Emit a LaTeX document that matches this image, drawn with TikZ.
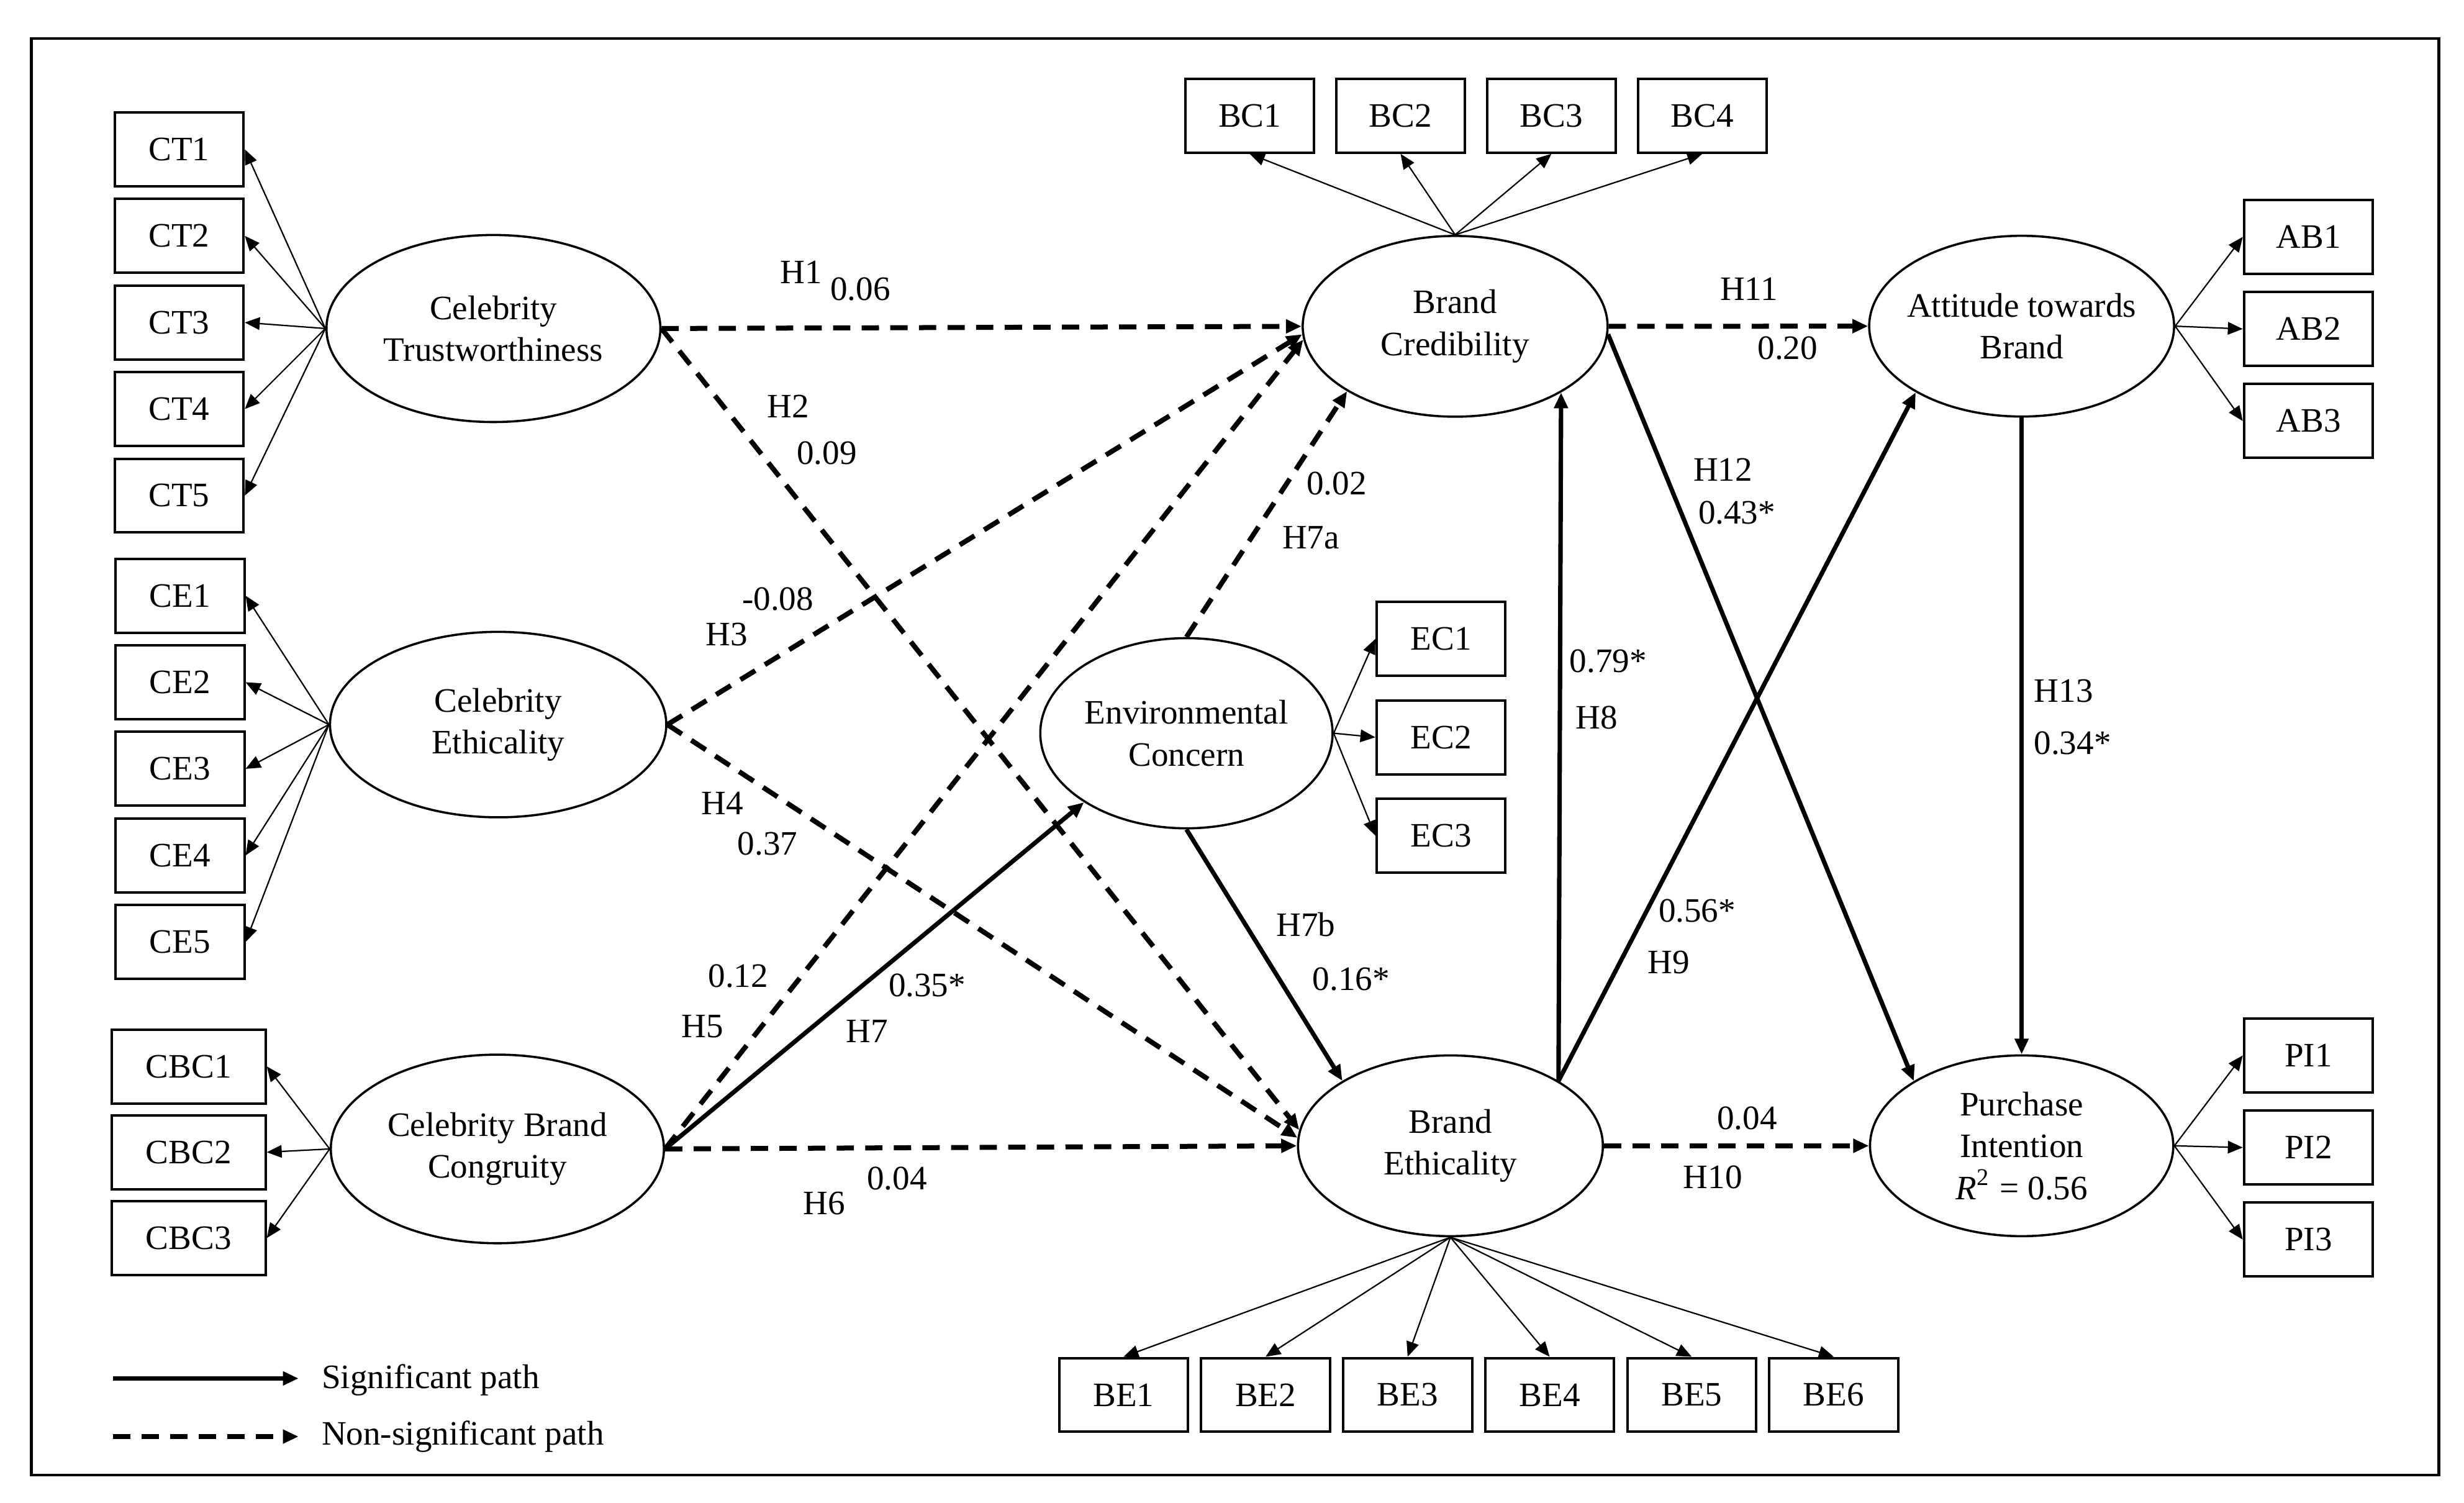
\documentclass[tikz,border=0pt]{standalone}
\usepackage{fontspec}
\setmainfont{Liberation Serif}
\usetikzlibrary{positioning,shapes.geometric,arrows.meta}

\begin{document}
\begin{tikzpicture}[x=0.1mm,y=-0.1mm,font=\fontsize{6.2}{7.6}\selectfont,
  latent/.style={ellipse,draw,line width=0.4pt,inner xsep=-3mm,inner ysep=-1mm,
    align=center,minimum width=19.4mm,minimum height=11.5mm},
  item/.style={rectangle,draw,line width=0.45pt,inner sep=0pt,
    minimum width=8.2mm,minimum height=4.7mm},
  load/.style={line width=0.25pt,-{Triangle[length=0.95mm,width=0.8mm]}},
  sig/.style={line width=0.8pt,-{Triangle[length=1mm,width=0.85mm]}},
  nonsig/.style={sig,line width=0.9pt,dash pattern=on 1.1mm off 0.72mm},
  num/.style={inner sep=0pt}]
  \useasboundingbox (0,0) rectangle (1568,956);
  \draw[line width=0.5pt] (20,24.5) rectangle (1552,938.5);

  % constructs
  \node[latent,minimum width=21.25mm,minimum height=11.9mm] (ct) at (314,209) {Celebrity\\Trustworthiness};
  \node[latent,minimum width=21.4mm,minimum height=11.8mm] (ce) at (317,461) {Celebrity\\Ethicality};
  \node[latent,minimum width=21.2mm,minimum height=12mm] (cbc) at (316.5,731) {Celebrity Brand\\Congruity};
  \node[latent,minimum width=18.6mm,minimum height=12.1mm] (ec) at (755,466.5) {Environmental\\Concern};
  \node[latent] (bc) at (926,207.6) {Brand\\Credibility};
  \node[latent] (att) at (1286.5,207.5) {Attitude towards\\Brand};
  \node[latent] (be) at (923,729) {Brand\\Ethicality};
  \node[latent,minimum width=19.3mm] (pi) at (1286.5,729)
    {Purchase\\Intention\\\textit{R}\textsuperscript{2} = 0.56};

  % indicators
  \node[item] (ct1) at (114,95) {CT1};
  \node[item] (ct2) [below = 0.65mm of ct1] {CT2};
  \node[item] (ct3) [below = 0.65mm of ct2] {CT3};
  \node[item] (ct4) [below = 0.65mm of ct3] {CT4};
  \node[item] (ct5) [below = 0.65mm of ct4] {CT5};
  \node[item] (ce1) at (114.5,379) {CE1};
  \node[item] (ce2) [below = 0.65mm of ce1] {CE2};
  \node[item] (ce3) [below = 0.65mm of ce2] {CE3};
  \node[item] (ce4) [below = 0.65mm of ce3] {CE4};
  \node[item] (ce5) [below = 0.65mm of ce4] {CE5};
  \node[item,minimum width=9.8mm] (cbc1) at (120,678.5) {CBC1};
  \node[item,minimum width=9.8mm] (cbc2) [below = 0.6mm of cbc1] {CBC2};
  \node[item,minimum width=9.8mm] (cbc3) [below = 0.6mm of cbc2] {CBC3};
  \node[item] (bc1) at (795.3,73.6) {BC1};
  \node[item] (bc2) [right = 1.24mm of bc1] {BC2};
  \node[item] (bc3) [right = 1.24mm of bc2] {BC3};
  \node[item] (bc4) [right = 1.24mm of bc3] {BC4};
  \node[item] (ab1) at (1469,150.7) {AB1};
  \node[item] (ab2) [below = 1mm of ab1] {AB2};
  \node[item] (ab3) [below = 1mm of ab2] {AB3};
  \node[item] (ec1) at (917,406.5) {EC1};
  \node[item] (ec2) [below = 1.4mm of ec1] {EC2};
  \node[item] (ec3) [below = 1.4mm of ec2] {EC3};
  \node[item] (pi1) at (1469,671.5) {PI1};
  \node[item] (pi2) [below = 1mm of pi1] {PI2};
  \node[item] (pi3) [below = 1mm of pi2] {PI3};
  \node[item] (be1) at (715,887.5) {BE1};
  \node[item] (be2) [right = 0.68mm of be1] {BE2};
  \node[item] (be3) [right = 0.68mm of be2] {BE3};
  \node[item] (be4) [right = 0.68mm of be3] {BE4};
  \node[item] (be5) [right = 0.68mm of be4] {BE5};
  \node[item] (be6) [right = 0.68mm of be5] {BE6};

  \draw[load] (ct.west) -- (ct1.east);
  \draw[load] (ct.west) -- (ct2.east);
  \draw[load] (ct.west) -- (ct3.east);
  \draw[load] (ct.west) -- (ct4.east);
  \draw[load] (ct.west) -- (ct5.east);
  \draw[load] (ce.west) -- (ce1.east);
  \draw[load] (ce.west) -- (ce2.east);
  \draw[load] (ce.west) -- (ce3.east);
  \draw[load] (ce.west) -- (ce4.east);
  \draw[load] (ce.west) -- (ce5.east);
  \draw[load] (cbc.west) -- (cbc1.east);
  \draw[load] (cbc.west) -- (cbc2.east);
  \draw[load] (cbc.west) -- (cbc3.east);
  \draw[load] (bc.north) -- (bc1.south);
  \draw[load] (bc.north) -- (bc2.south);
  \draw[load] (bc.north) -- (bc3.south);
  \draw[load] (bc.north) -- (bc4.south);
  \draw[load] (att.east) -- (ab1.west);
  \draw[load] (att.east) -- (ab2.west);
  \draw[load] (att.east) -- (ab3.west);
  \draw[load] (ec.east) -- (ec1.west);
  \draw[load] (ec.east) -- (ec2.west);
  \draw[load] (ec.east) -- (ec3.west);
  \draw[load] (pi.east) -- (pi1.west);
  \draw[load] (pi.east) -- (pi2.west);
  \draw[load] (pi.east) -- (pi3.west);
  \draw[load] (be.south) -- (be1.north);
  \draw[load] (be.south) -- (be2.north);
  \draw[load] (be.south) -- (be3.north);
  \draw[load] (be.south) -- (be4.north);
  \draw[load] (be.south) -- (be5.north);
  \draw[load] (be.south) -- (be6.north);

  % structural paths
  \draw[nonsig] (ct.east) -- (bc.west);
  \draw[nonsig] (ct.east) -- (be.174);
  \draw[nonsig] (ce.east) -- (bc.183);
  \draw[nonsig] (ce.east) -- (be.177);
  \draw[nonsig] (cbc.east) -- (bc.185);
  \draw[nonsig] (cbc.east) -- (be.west);
  \draw[sig] (cbc.east) -- (ec.214);
  \draw[nonsig] (ec.north) -- (bc.211);
  \draw[sig] (ec.south) -- (be.149);
  \draw[sig] (be.31) -- (bc.-32);
  \draw[sig] (be.31) -- (att.212);
  \draw[nonsig] (be.east) -- (pi.west);
  \draw[nonsig] (bc.east) -- (att.west);
  \draw[sig] (bc.-3) -- (pi.149);
  \draw[sig] (att.south) -- (pi.north);

  % path labels
  \node[num] at (510,173) {H1};
  \node[num] at (547.5,184) {0.06};
  \node[num] at (501.6,258.4) {H2};
  \node[num] at (526.2,288.3) {0.09};
  \node[num] at (495,381.3) {-0.08};
  \node[num] at (462.3,403.6) {H3};
  \node[num] at (459.7,510.9) {H4};
  \node[num] at (488.5,537) {0.37};
  \node[num] at (469.8,620.8) {0.12};
  \node[num] at (447,653) {H5};
  \node[num] at (524.6,765.8) {H6};
  \node[num] at (570.8,749.8) {0.04};
  \node[num] at (590,626.8) {0.35*};
  \node[num] at (551.7,656) {H7};
  \node[num] at (850.6,307.8) {0.02};
  \node[num] at (834.2,342) {H7a};
  \node[num] at (831,588.4) {H7b};
  \node[num] at (859.8,622.8) {0.16*};
  \node[num] at (1023.4,420.5) {0.79*};
  \node[num] at (1016,456.6) {H8};
  \node[num] at (1080,579.5) {0.56*};
  \node[num] at (1062,612.3) {H9};
  \node[num] at (1111.8,711.3) {0.04};
  \node[num] at (1090,749) {H10};
  \node[num] at (1113,184) {H11};
  \node[num] at (1137.6,221.3) {0.20};
  \node[num] at (1096.4,298.7) {H12};
  \node[num] at (1105.3,326.2) {0.43*};
  \node[num] at (1313.3,439.6) {H13};
  \node[num] at (1318.9,473) {0.34*};

  % legend
  \coordinate (sigstart) at (72,877);
  \coordinate (sigend) at (190,877);
  \coordinate (nonstart) at (72,914);
  \coordinate (nonend) at (190,914);
  \draw[sig] (sigstart) -- (sigend);
  \draw[nonsig] (nonstart) -- (nonend);
  \node[num,anchor=west] (sigtext) at (204,878) {Significant path};
  \node[num,anchor=west] (nontext) at (204,914) {Non-significant path};
\end{tikzpicture}
\end{document}
